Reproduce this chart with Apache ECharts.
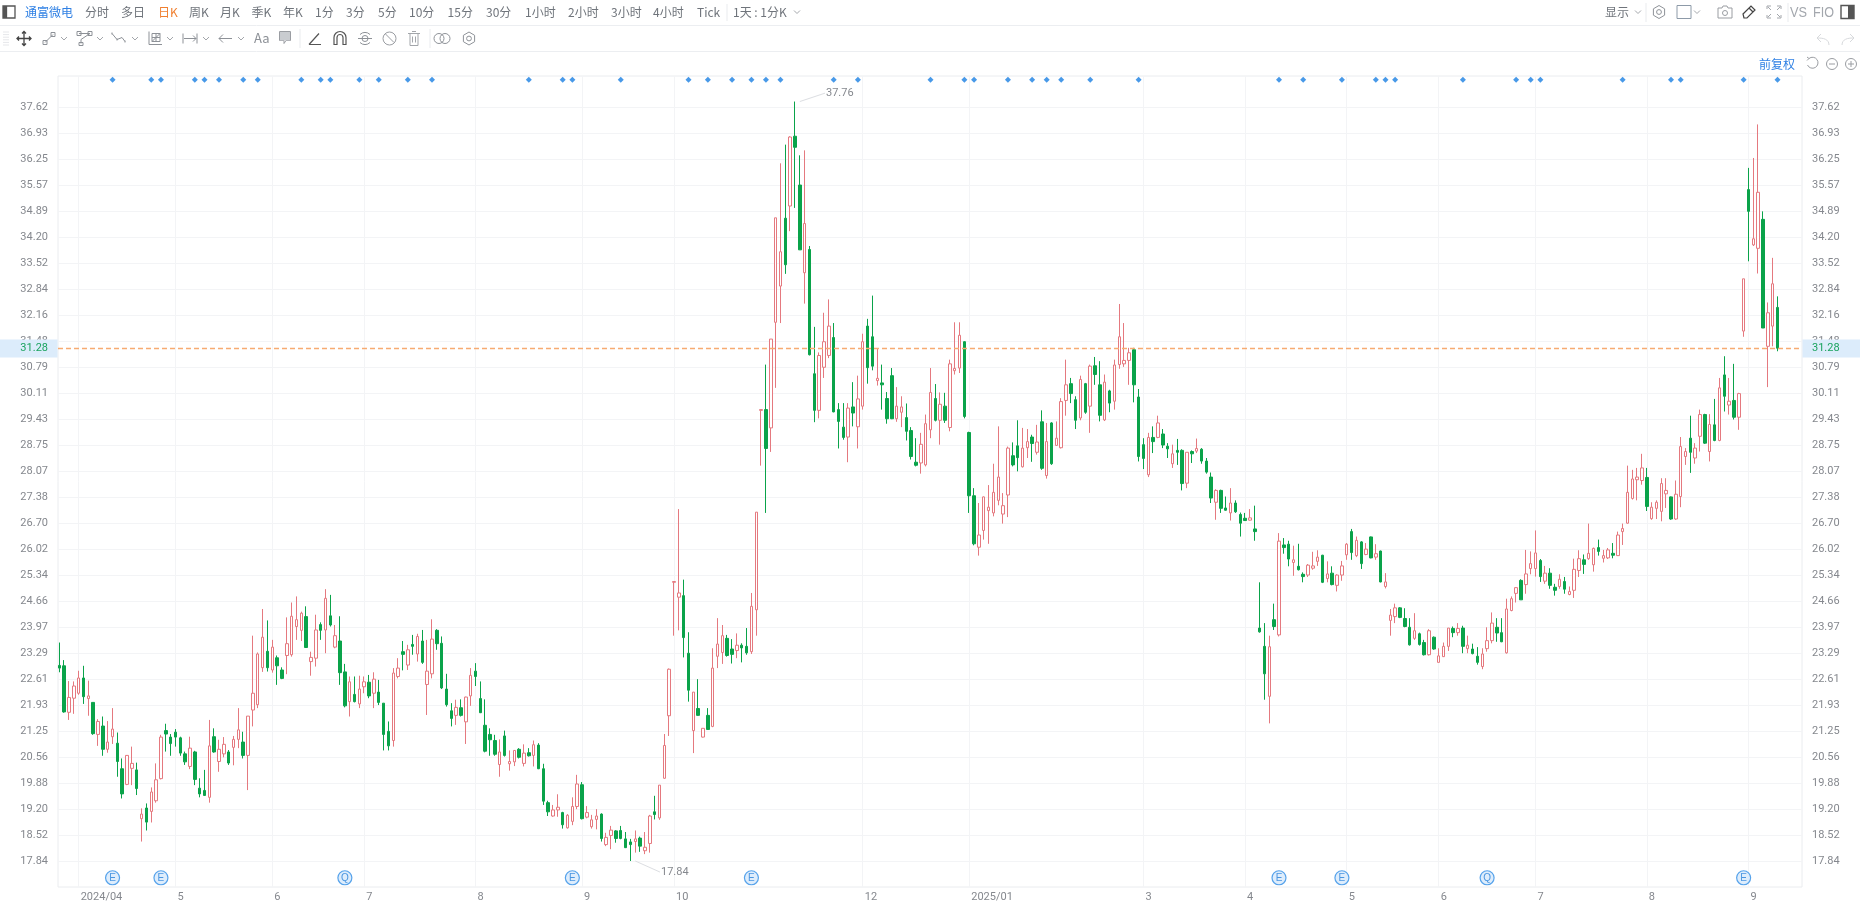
<!DOCTYPE html>
<html><head><meta charset="utf-8"><title>通富微电</title>
<style>html,body{margin:0;padding:0;background:#fff;overflow:hidden}#c{position:absolute;left:0;top:0;width:1860px;height:906px}#bar{position:absolute;left:0;top:0;pointer-events:none}</style>
<script src="https://cdn.jsdelivr.net/npm/echarts@6/dist/echarts.min.js"></script></head>
<body><div id="c"></div><svg id="bar" width="1860" height="76" xmlns="http://www.w3.org/2000/svg"></svg>
<script>
// candles: [open, close, low, high], one array per stretch of months
const ohlcMar24=[[22.97,22.90,22.79,23.57],[22.96,21.75,21.73,23.11],[21.74,22.13,21.54,22.56],[22.11,22.43,21.70,22.55]];
const ohlcApr24=[[22.24,22.64,22.20,22.83],[22.64,22.15,21.96,22.96],[22.10,22.17,21.65,22.57],[22.00,21.18,21.15,22.00],[21.16,21.50,20.86,21.56],[21.38,20.77,20.60,21.63],[20.77,20.96,20.68,21.51],[21.10,21.30,20.91,21.85],[20.93,20.45,20.05,21.21],[20.26,19.60,19.48,20.53],[19.85,20.61,19.83,20.62],[20.27,20.40,19.83,20.84],[20.23,19.74,19.57,20.42],[18.95,19.07,18.35,19.22],[19.23,18.86,18.64,19.35],[19.14,19.65,18.85,19.77],[19.42,19.97,19.37,20.40],[20.00,21.09,19.98,21.15],[21.26,21.17,20.71,21.44],[21.09,20.92,20.60,21.17]];
const ohlcMay24=[[21.22,21.09,20.84,21.30],[21.07,20.67,20.60,21.10],[20.65,20.44,20.36,20.71],[20.32,20.80,20.25,21.10],[20.70,19.98,19.83,20.73],[19.75,19.60,19.51,20.01],[19.69,19.56,19.55,20.23],[19.51,20.86,19.37,21.54],[21.10,20.70,20.68,21.32],[20.45,20.77,20.18,21.02],[20.65,20.90,20.56,21.09],[20.70,20.41,20.36,20.75],[20.82,21.03,20.35,21.12],[21.03,21.28,20.80,21.85],[20.96,20.61,20.53,21.23],[20.61,21.64,19.70,21.64],[21.80,22.24,21.37,23.75],[21.94,23.27,21.85,23.31],[22.91,23.71,22.80,24.45],[23.34,22.91,22.81,24.15]];
const ohlcJun24=[[22.85,23.45,22.78,23.64],[23.17,22.96,22.46,23.23],[22.85,22.63,22.61,22.92],[23.23,23.54,22.74,24.23],[23.25,24.26,23.20,24.62],[23.99,24.17,23.64,24.78],[23.89,24.34,23.61,24.38],[24.25,23.44,23.43,24.52],[23.07,23.18,22.70,23.33],[23.16,23.90,22.94,24.30],[24.04,23.89,23.64,24.10],[23.90,24.73,23.29,24.97],[24.27,24.03,23.99,24.82],[23.45,23.75,23.42,24.03],[23.61,22.78,22.46,24.26],[22.80,21.91,21.87,23.01],[22.02,22.54,21.63,22.68],[22.21,22.02,22.00,22.68],[21.96,22.35,21.85,22.70]];
const ohlcJul24=[[22.41,22.54,22.24,22.68],[22.53,22.17,22.11,22.72],[22.24,22.61,21.85,22.79],[22.27,22.00,21.93,22.59],[21.98,21.16,20.74,21.98],[21.24,20.86,20.74,21.50],[21.00,22.77,20.84,22.90],[22.68,22.90,22.63,23.16],[23.33,23.26,22.84,23.61],[22.98,23.38,22.85,23.51],[23.52,23.47,23.25,23.77],[23.27,23.73,23.07,23.80],[23.61,23.05,23.01,23.90],[22.47,22.82,21.67,23.64],[22.75,23.66,22.63,24.18],[23.89,23.54,23.38,23.92],[23.55,22.38,22.35,23.73],[22.35,21.94,21.89,22.75],[21.78,21.58,21.37,21.98],[21.66,21.87,21.41,22.07],[21.86,21.66,21.63,22.08],[21.49,22.14,20.91,22.15],[22.17,22.71,21.91,22.90]];
const ohlcAug24=[[22.82,22.68,22.43,23.03],[22.10,21.73,21.72,22.55],[21.40,20.72,20.69,22.08],[21.16,21.02,20.60,21.32],[21.00,20.64,20.60,21.15],[20.37,20.70,20.05,21.03],[21.12,20.61,20.58,21.26],[20.39,20.45,20.21,20.74],[20.44,20.74,20.33,20.75],[20.77,20.56,20.53,20.80],[20.40,20.67,20.32,20.90],[20.68,20.60,20.58,20.80],[20.61,20.89,20.32,21.00],[20.88,20.26,20.25,20.93],[20.26,19.41,19.31,20.39],[19.37,19.13,19.02,19.42],[19.02,19.18,19.00,19.31],[19.18,19.25,19.00,19.59],[19.11,18.79,18.69,19.13],[18.71,19.04,18.69,19.07],[18.88,19.27,18.78,19.51],[19.27,19.86,19.20,20.10]];
const ohlcSep24=[[19.84,18.95,18.93,19.91],[18.99,19.11,18.96,19.28],[18.74,18.92,18.69,19.05],[18.93,19.02,18.67,19.20],[19.07,18.43,18.35,19.09],[18.27,18.46,18.23,18.58],[18.51,18.65,18.15,18.76],[18.63,18.43,18.32,18.65],[18.64,18.43,18.41,18.76],[18.42,18.19,18.18,18.60],[18.34,18.27,17.84,18.42],[18.35,18.42,18.06,18.64],[18.44,18.23,18.08,18.48],[18.11,18.20,18.02,18.60],[18.30,19.02,18.06,19.05],[19.13,19.06,18.93,19.55],[18.97,19.83,18.92,19.83],[20.01,20.87,20.00,21.17],[21.65,22.87,21.12,22.89]];
const ohlcOct24=[[25.15,25.17,23.75,25.17],[24.76,24.87,23.89,27.07],[24.80,23.70,23.18,25.22],[23.29,22.32,22.02,23.84],[21.26,22.27,20.67,22.27],[21.84,21.66,21.65,22.61],[21.09,21.32,21.08,21.32],[21.66,21.29,21.28,21.85],[21.37,22.90,21.35,23.42],[23.21,23.53,22.90,24.21],[23.31,23.75,23.01,24.03],[23.68,23.23,23.20,23.77],[23.40,23.26,23.02,23.66],[23.36,23.50,23.16,23.81],[23.50,23.43,23.05,23.55],[23.47,23.30,23.25,23.95],[23.33,24.52,23.27,24.87],[24.43,26.99,23.75,26.99]];
const ohlcNov24=[[29.66,29.68,28.21,29.68],[29.68,28.66,26.97,30.86],[29.20,31.53,28.57,31.53],[31.97,34.71,30.25,34.71],[32.92,33.82,31.95,36.14],[34.70,33.48,33.24,36.63],[35.02,36.83,34.36,36.85],[36.85,36.56,34.97,37.76],[35.57,33.87,33.87,36.35],[33.27,34.56,32.46,36.48],[33.88,31.12,31.10,33.97],[30.62,29.66,29.35,31.85],[29.66,31.10,29.45,31.18],[30.79,31.46,30.51,32.22],[31.10,31.87,31.03,32.57],[31.57,29.62,29.61,31.95],[29.68,29.37,28.66,29.85],[29.22,28.95,28.89,29.85],[28.96,29.72,28.30,29.85],[29.75,29.59,29.24,30.40],[29.23,29.96,28.66,30.57]];
const ohlcDec24=[[29.77,31.46,29.68,31.67],[31.87,30.78,30.36,32.06],[31.59,30.82,30.71,32.67],[30.44,30.50,30.31,31.29],[30.38,30.33,29.68,30.86],[29.97,29.44,29.31,30.14],[30.57,29.44,29.43,30.77],[29.44,29.77,29.36,30.27],[29.61,29.75,29.22,30.03],[29.47,29.11,28.87,29.84],[29.13,28.45,28.37,29.22],[28.30,28.22,28.19,28.93],[28.28,28.77,28.00,29.07],[28.23,29.31,28.19,29.55],[29.15,30.13,28.93,30.77],[29.97,29.40,29.37,30.35],[29.40,29.82,28.76,30.13],[29.77,29.40,29.33,30.12],[29.21,30.88,29.11,30.99],[30.70,30.76,30.60,31.97],[30.77,31.63,30.64,31.97],[31.46,29.50,29.45,31.47]];
const ohlcJan25=[[29.08,27.42,26.97,29.10],[27.42,26.16,26.12,27.62],[26.07,26.39,25.85,27.23],[26.51,27.39,26.27,27.40],[27.03,27.12,26.16,27.70],[26.97,27.51,26.88,28.26],[27.30,27.91,27.17,29.24],[26.94,27.16,26.69,27.49],[27.44,28.67,26.86,28.71],[28.47,28.23,28.19,28.82],[28.73,28.42,28.06,29.40],[28.18,28.67,28.16,29.20],[28.68,28.84,28.41,29.17],[28.96,28.79,28.31,29.02],[28.56,28.83,28.50,29.28],[29.36,28.14,28.10,29.66],[27.95,28.84,27.87,29.33],[29.33,28.26,28.23,29.35]];
const ohlcFeb25=[[28.74,28.93,28.73,29.37],[28.68,29.89,28.66,29.98],[29.92,30.33,29.52,30.99],[30.36,30.10,29.85,30.51],[29.94,29.40,29.17,30.03],[29.46,30.47,29.40,30.57],[30.36,29.61,29.57,30.38],[29.77,30.82,29.07,30.86],[30.83,30.60,30.33,31.06],[30.33,29.53,29.37,30.95],[29.41,30.40,29.38,30.60],[30.17,29.85,29.61,30.20],[29.90,30.85,29.68,30.99],[30.86,31.59,30.75,32.45],[30.88,30.97,30.80,31.95],[30.97,31.17,30.33,31.30],[31.25,30.33,29.87,31.30]];
const ohlcMar25=[[30.01,28.45,28.32,30.22],[28.76,28.40,28.12,28.93],[27.97,28.95,27.91,29.07],[28.95,28.84,28.54,29.24],[28.95,29.33,28.93,29.52],[29.04,28.75,28.67,29.17],[28.72,28.65,28.41,28.80],[28.26,28.52,28.15,28.76],[28.61,28.56,28.23,28.91],[28.61,27.74,27.56,28.64],[27.75,28.56,27.62,28.56],[28.58,28.52,28.28,28.61],[28.59,28.66,28.54,28.92],[28.64,28.33,28.26,28.67],[28.33,28.04,28.00,28.41],[27.91,27.36,27.23,28.03],[27.25,27.56,26.79,27.59],[27.56,27.09,26.97,27.58],[27.10,27.04,27.03,27.40],[26.97,27.23,26.77,27.62],[27.23,27.00,26.97,27.30]];
const ohlcApr25=[[26.93,26.70,26.35,26.98],[26.83,26.77,26.77,26.97],[26.78,26.84,26.77,27.07],[26.55,26.48,26.24,27.16],[23.95,23.85,23.83,25.15],[23.47,22.75,22.07,24.08],[22.16,23.46,21.45,23.75],[24.17,23.99,23.90,24.59],[23.77,26.23,23.73,26.44],[26.13,26.06,25.90,26.31],[26.15,25.76,25.57,26.24],[25.67,25.74,25.32,26.11],[25.57,25.48,25.46,26.16],[25.36,25.30,25.15,25.41],[25.34,25.60,25.29,25.63],[25.52,25.58,25.48,25.95],[25.70,25.81,25.58,25.99],[25.86,25.15,25.13,25.87],[25.25,25.37,25.15,25.70],[25.39,25.09,25.07,25.57],[25.07,25.34,24.91,25.36]];
const ohlcMay25=[[25.34,25.58,25.19,25.71],[25.87,26.15,25.74,26.18],[26.48,25.93,25.74,26.55],[25.85,26.25,25.81,26.35],[26.21,25.64,25.50,26.23],[25.88,26.02,25.86,26.18],[26.34,25.79,25.78,26.35],[25.81,25.90,25.74,26.15],[25.97,25.16,25.15,25.98],[25.04,25.16,24.99,25.39],[24.15,24.29,23.75,24.45],[24.25,24.48,24.08,24.59],[24.48,24.23,24.21,24.50],[24.20,23.99,23.97,24.47],[23.97,23.51,23.49,24.21],[23.68,23.88,23.64,24.34],[23.80,23.52,23.49,23.83],[23.57,23.25,23.23,23.64],[23.25,23.88,23.23,23.92]];
const ohlcJun25=[[23.71,23.40,23.38,23.73],[23.05,23.22,23.05,23.42],[23.20,23.47,23.19,23.57],[23.47,23.95,23.35,23.95],[23.94,23.83,23.71,23.99],[23.83,23.94,23.75,24.08],[23.95,23.47,23.29,24.01],[23.41,23.50,23.29,23.75],[23.40,23.28,23.26,23.54],[23.21,23.05,22.99,23.45],[22.94,23.27,22.87,23.42],[23.41,23.62,23.33,23.97],[23.62,24.08,23.55,24.36],[23.97,23.82,23.59,24.21],[23.83,23.59,23.58,24.21],[23.30,24.45,23.28,24.72],[24.41,24.72,24.39,24.78],[24.86,25.01,24.62,25.02],[25.20,24.69,24.69,25.23],[25.09,25.37,24.85,26.00]];
const ohlcJul25=[[25.51,25.64,25.36,25.96],[25.51,25.92,25.30,26.51],[25.72,25.30,25.16,25.76],[25.18,25.39,25.11,25.58],[25.39,25.07,24.98,25.52],[25.02,24.94,24.80,25.11],[25.04,25.23,24.98,25.36],[25.17,24.97,24.85,25.29],[24.83,24.91,24.81,25.04],[24.94,25.49,24.74,25.77],[25.46,25.77,25.29,25.99],[25.74,25.62,25.37,25.88],[25.77,25.91,25.74,26.69],[25.61,26.04,25.43,26.06],[26.06,25.96,25.85,26.27],[25.78,25.85,25.67,26.00],[25.79,26.00,25.76,26.05],[25.91,25.86,25.78,26.18],[25.85,26.39,25.85,26.48],[26.48,26.56,26.13,26.69],[26.70,27.51,26.69,28.21],[27.35,27.86,27.32,28.10],[27.84,27.91,27.30,28.15]];
const ohlcAug25=[[27.82,28.15,27.71,28.52],[27.90,27.14,27.02,28.15],[26.82,27.12,26.79,27.25],[27.09,27.25,26.81,27.30],[27.01,27.74,26.75,27.88],[27.47,27.56,27.10,27.88],[27.39,26.81,26.79,27.40],[26.81,27.46,26.79,27.82],[27.40,28.71,27.12,28.96],[28.45,28.58,28.23,28.67],[28.93,28.56,28.02,29.52],[28.41,28.67,28.26,28.80],[28.98,29.55,28.58,29.68],[29.55,28.80,28.78,29.57],[28.58,29.29,28.32,29.56],[29.28,28.87,28.85,29.96],[28.87,30.25,28.85,30.51],[30.59,30.03,29.63,31.08],[29.80,29.90,29.55,30.51],[29.92,29.48,29.42,30.88],[29.48,30.10,29.15,30.12]];
const ohlcSep25=[[31.74,33.11,31.59,33.11],[35.45,34.88,33.57,36.02],[34.00,34.16,33.97,36.28],[33.91,35.38,33.25,37.16],[34.67,31.82,31.82,34.88],[31.34,32.22,30.27,32.49],[31.87,32.98,31.34,33.66],[32.36,31.29,31.21,32.65]];

const priceTicks=[17.84,18.52,19.20,19.88,20.56,21.25,21.93,22.61,23.29,23.97,24.66,25.34,26.02,26.70,27.38,28.07,28.75,29.43,30.11,30.79,31.48,32.16,32.84,33.52,34.20,34.89,35.57,36.25,36.93,37.62];
const monthTickIndex=[4,24,44,63,86,108,127,166,188,224,245,266,285,305,328,349];
const monthTickLabels=['2024/04','5','6','7','8','9','10','12','2025/01','3','4','5','6','7','8','9'];
const newsDotIndex=[11,19,21,28,30,33,38,41,50,54,56,62,66,72,77,97,104,106,116,130,134,139,143,146,149,160,165,180,187,189,196,201,204,207,213,223,252,257,265,272,274,276,290,301,304,306,323,333,335,348,355];
const reportIndex=[11,21,59,106,143,252,265,295,348];
const reportLetters=['E','E','Q','E','E','E','E','Q','E'];
const lastPrice=31.28;
const highNote=[[153,37.76],[158.2,37.98]];
const lowNote=[[119,17.84],[124.1,17.55]];
const newsDotLevel=38.33, reportLevel=17.40;
const axisMin=17.158, axisMax=38.43;

const candles=[].concat(ohlcMar24,ohlcApr24,ohlcMay24,ohlcJun24,ohlcJul24,ohlcAug24,ohlcSep24,ohlcOct24,ohlcNov24,ohlcDec24,ohlcJan25,ohlcFeb25,ohlcMar25,ohlcApr25,ohlcMay25,ohlcJun25,ohlcJul25,ohlcAug25,ohlcSep25);
const NUMFONT='Roboto,"Liberation Sans",sans-serif';
const NUMSIZE=11;
const RED='#e5797f',GREEN='#0aa34a',GRID='#f3f4f6',LABEL='#85888e';
const chart=echarts.init(document.getElementById('c'),null,{renderer:'canvas',width:1860,height:906});
const yAxisBase={type:'value',min:axisMin,max:axisMax,scale:true,
  axisLine:{show:false},axisTick:{show:false,customValues:priceTicks},
  splitLine:{show:true,lineStyle:{color:GRID,width:1}}};
const yLabel={customValues:priceTicks,color:LABEL,fontFamily:NUMFONT,fontSize:NUMSIZE,margin:10,formatter:v=>v.toFixed(2),showMinLabel:true,showMaxLabel:true};
const noteLine=(pts,txt)=>({type:'line',data:pts,silent:true,symbol:'none',z:4,
  lineStyle:{color:'#dcdee2',width:1},
  endLabel:{show:true,formatter:()=>txt,color:LABEL,fontFamily:NUMFONT,fontSize:NUMSIZE,distance:1}});
chart.setOption({
  animation:false,backgroundColor:'#fff',
  grid:{left:58,top:76,width:1744,height:811,show:true,borderColor:'#eaecef',borderWidth:1,containLabel:false},
  xAxis:{type:'value',min:-0.27,max:360.06,
    axisLine:{show:false},axisTick:{show:false,customValues:monthTickIndex},
    splitLine:{show:true,lineStyle:{color:GRID,width:1}},
    axisLabel:{customValues:monthTickIndex,align:'left',padding:[0,0,0,2],margin:5,color:LABEL,fontFamily:NUMFONT,fontSize:NUMSIZE,
      formatter:v=>monthTickLabels[monthTickIndex.indexOf(v)]}},
  yAxis:[Object.assign({},yAxisBase,{position:'left',axisLabel:yLabel}),
         Object.assign({},yAxisBase,{position:'right',splitLine:{show:false},axisLabel:yLabel})],
  series:[
    {type:'candlestick',name:'通富微电',barWidth:3,
     data:candles.map((c,i)=>[i,c[0],c[1],c[2],c[3]]),
     encode:{x:0,y:[1,2,3,4]},
     itemStyle:{color:'#fff',color0:GREEN,borderColor:RED,borderColor0:GREEN,borderWidth:1},
     markLine:{silent:true,symbol:'none',label:{show:false},animation:false,
       lineStyle:{color:'#f7ab72',type:[5,3],width:1.4},data:[{yAxis:lastPrice}]}},
    {type:'scatter',name:'news',symbol:'diamond',symbolSize:6,clip:false,
     itemStyle:{color:'#1a80e2'},data:newsDotIndex.map(i=>[i,newsDotLevel])},
    {type:'scatter',name:'reports',symbol:'circle',symbolSize:14,clip:false,
     itemStyle:{color:'#d6e9fb',borderColor:'#2f8de6',borderWidth:1.2},
     label:{show:true,position:'inside',color:'#2480da',fontSize:10,fontFamily:'"Liberation Sans",sans-serif',
       formatter:p=>reportLetters[p.dataIndex]},
     data:reportIndex.map(i=>[i,reportLevel])},
    noteLine(highNote,'37.76'),
    noteLine(lowNote,'17.84')
  ]
});
// last-price tags on both axes, placed through the chart's scale
const py=chart.convertToPixel({yAxisIndex:0},lastPrice);
const tag=(x,w,tx,align)=>[
 {type:'rect',z:100,shape:{x:x,y:py-9,width:w,height:18},style:{fill:'#dcecfb'}},
 {type:'text',z:101,x:tx,y:py,style:{text:lastPrice.toFixed(2),fill:'#1ba35f',font:NUMSIZE+'px '+NUMFONT,textAlign:align,textVerticalAlign:'middle'}}];
chart.setOption({graphic:{elements:[...tag(0,57.5,48,'right'),...tag(1802.5,57.5,1812,'left')]}});

// toolbars
const CJK='"Noto Sans CJK SC",sans-serif';
const topItems=[['分时',85],['多日',121],['周K',189],['月K',220],['季K',251.5],['年K',283],['1分',315],['3分',346],['5分',378],['10分',409],['15分',447.6],['30分',486],['1小时',525],['2小时',568],['3小时',611],['4小时',653],['Tick',697],['1天 : 1分K',733]];
let s='';
const T=(t,x,y,f,sz,a)=>s+=`<text x="${x}" y="${y}" fill="${f}" font-size="${sz}" font-family='${CJK}' ${a||''}>${t}</text>`;
const P=(x,y,d,c,w)=>s+=`<path transform="translate(${x} ${y})" d="${d}" fill="none" stroke="${c||'#8d9197'}" stroke-width="${w||1}"/>`;
const caret=(x,y)=>P(x,y,'M-3-1.5L0 1.5L3-1.5','#a3a6ab');
const sep=(x,a,b)=>s+=`<line x1="${x}" x2="${x}" y1="${a}" y2="${b}" stroke="#e9ebee"/>`;
s+=`<line x1="0" x2="1860" y1="25.5" y2="25.5" stroke="#eceef1"/><line x1="0" x2="1860" y1="51.5" y2="51.5" stroke="#eceef1"/>`;
P(9,12,'M-6-6H6V6H-6ZM-2.5-6V6','#555',1.3);
s+=`<rect x="3" y="6" width="3.5" height="12" fill="#555"/>`;
T('通富微电',25,16.5,'#2f80e4',12);
topItems.forEach(([t,x])=>T(t,x,16.5,'#6f747b',12));
s+=`<text x="158" y="16.5" font-size="12" font-family='${CJK}' fill="#f07f2f">日K</text>`;
caret(797,12);sep(727,4,21);
T('显示',1605,16.5,'#6f747b',12);caret(1638,12);sep(1646,3,22);
const gear='M0-6.5L5.6-3.2V3.2L0 6.5L-5.6 3.2V-3.2ZM2.4 0A2.4 2.4 0 1 1-2.4 0A2.4 2.4 0 1 1 2.4 0';
P(1659,12,gear);P(1684,12,'M-7-6.5H7V6.5H-7Z','#8d9aa8');caret(1697,12);
P(1725,12,'M-7-4H-3L-2-6H2L3-4H7V6H-7ZM2.5 1A2.5 2.5 0 1 1-2.5 1A2.5 2.5 0 1 1 2.5 1','#9a9da2');
P(1749,12,'M-5 6L-6 2L2-6L6-2L-2 6ZM0-4L4 0','#444',1.2);
P(1774,12,'M-7-3V-6H-3M3-6H7V-3M7 3V6H3M-3 6H-7V3M-6-5L-3-2M6-5L3-2M6 5L3 2M-6 5L-3 2','#a3a6ab');
sep(1788,3,22);
s+=`<text x="1790" y="17" font-size="14" textLength="17" lengthAdjust="spacingAndGlyphs" font-family="Liberation Sans,sans-serif" fill="#a3a7ad">VS</text><text x="1813" y="17" font-size="14" textLength="21" lengthAdjust="spacingAndGlyphs" font-family="Liberation Sans,sans-serif" fill="#a3a7ad">FIO</text>`;
P(1847.5,12,'M-6.5-6.5H6.5V6.5H-6.5Z','#555',1.4);s+=`<rect x="1848" y="6" width="6" height="12" fill="#555"/>`;
// drawing toolbar
for(let i=0;i<6;i++)s+=`<line x1="3" x2="9" y1="${32+i*2.6}" y2="${32+i*2.6}" stroke="#e6e7ea"/>`;
const y2=38.5;
P(24,y2,'M0-7V7M-7 0H7M-2-5L0-7L2-5M-2 5L0 7L2 5M-5-2L-7 0L-5 2M5-2L7 0L5 2','#444',1.3);
P(49,y2,'M-4 4L4-4M-6 2H-2V6H-6ZM2-6H6V-2H2Z');caret(64,y2);
P(84,y2,'M-5-5H6L-3 1V5M-7-7H-3V-3H-7ZM4-7H8V-3H4ZM-5 4H-1V7H-5Z');caret(100,y2);
P(119,y2,'M-7-5L-2 1L3-1L6 3M-7-6V-4M-2 0V2M6 2V4');caret(135,y2);
P(155,y2,'M-6-7V6H7M-3-5H5V3H-3ZM-3 3L5-5M-3-1H5M1-5V3');caret(170,y2);
P(190,y2,'M-7-5V5M7-5V5M-6 0H6M3-3L6 0L3 3');caret(206,y2);
P(225,y2,'M7 0H-6M-2-4L-6 0L-2 4');caret(241,y2);
T('Aa',254,43,'#8d9197',13);
P(285,y2-1,'M-5.5-6H5.5V3H1L-1 6V3H-5.5Z','#9a9da2');
s+=`<rect x="280" y="32" width="10" height="8.5" fill="#c9ccd0"/>`;
sep(300,29,48);
P(315,y2,'M-6 6H6M-6 6L4-5','#555',1.2);
P(340,y2,'M-6 6V-1A6 6 0 0 1 6-1V6H3V-1A3 3 0 0 0-3-1V6Z','#555',1.2);
P(365,y2,'M-7 0H7M-3 0A3 3 0 1 1 3 0A3 3 0 1 1-3 0M-5-4A7 7 0 0 1 5-4M-5 4A7 7 0 0 0 5 4');
P(389.5,y2,'M6.5 0A6.5 6.5 0 1 1-6.5 0A6.5 6.5 0 1 1 6.5 0M-4-4.5L4.5 4','#9a9da2');
P(414,y2,'M-6-5H6M-4-5V7H4V-5M-2-7H2M-1.5-2V4M1.5-2V4','#a3a6ab');
sep(430,29,48);
P(441,y2,'M3 0A5 5 0 1 1-7 0A5 5 0 1 1 3 0');P(447,y2,'M3 0A5 5 0 1 1-7 0A5 5 0 1 1 3 0');
P(469,y2,gear);
P(1823,40,'M6 5C6-1 0-2-5-2M-2-6L-6-2L-2 2','#d7d9dc');
P(1848,40,'M-6 5C-6-1 0-2 5-2M2-6L6-2L2 2','#d7d9dc');
T('前复权',1759,68.5,'#2f80e4',12);
P(1813,64,'M-4-5.5A5.5 5.5 0 1 1-5.5 1M-6-7L-4-5.5L-6-3.5','#9a9da2');
P(1832,64,'M5.5 0A5.5 5.5 0 1 1-5.5 0A5.5 5.5 0 1 1 5.5 0M-3 0H3','#9a9da2');
P(1851,64,'M5.5 0A5.5 5.5 0 1 1-5.5 0A5.5 5.5 0 1 1 5.5 0M-3 0H3M0-3V3','#9a9da2');
document.getElementById('bar').innerHTML=s;
</script></body></html>
